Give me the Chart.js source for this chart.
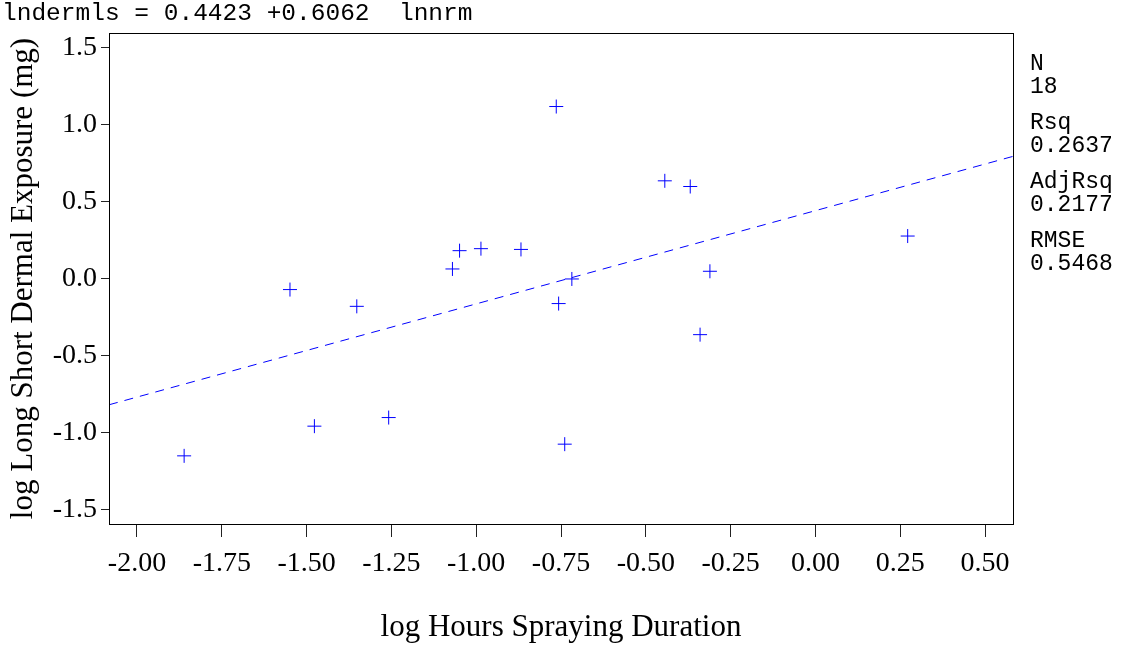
<!DOCTYPE html>
<html>
<head>
<meta charset="utf-8">
<script src="https://cdn.jsdelivr.net/npm/chart.js@4.4.1/dist/chart.umd.min.js"></script>
<style>
  body { margin: 0; background: #fff; }
  canvas { display: block; }
</style>
</head>
<body>
<canvas id="fitChart" width="1124" height="646"></canvas>
<script>
// Observed points (log hours spraying vs log dermal exposure)
const logHours = [-1.861, -1.549, -1.477, -1.352, -1.258, -1.070, -1.049, -0.986, -0.868,
  -0.764, -0.757, -0.739, -0.718, -0.444, -0.369, -0.340, -0.311, 0.272];
const logExposure = [-1.152, -0.071, -0.959, -0.180, -0.903, 0.063, 0.182, 0.195, 0.190,
  1.119, -0.162, -1.076, -0.002, 0.636, 0.599, -0.364, 0.048, 0.277];

// Fitted line end points, read at the frame edges
const fitX = [-2.0825, 0.5825];
const fitY = [-0.820, 0.795];

// Axis ranges and ticks
const xRange = [-2.0825, 0.5825];
const yRange = [-1.595, 1.597];
const xStep = 0.25;
const yStep = 0.5;

// Header and side statistics
const equationText = "lndermls = 0.4423 +0.6062  lnnrm";
const statLabels = ["N", "Rsq", "AdjRsq", "RMSE"];
const statValues = ["18", "0.2637", "0.2177", "0.5468"];

const serif = "'Liberation Serif', 'Times New Roman', serif";
const mono = "'Liberation Mono', 'Courier New', monospace";

// Frame round the plot area plus the header / stats text
const framePlugin = {
  id: "frame",
  afterDraw(chart) {
    const { ctx, chartArea } = chart;
    ctx.save();
    ctx.strokeStyle = "#000";
    ctx.lineWidth = 1;
    ctx.strokeRect(
      Math.round(chartArea.left) + 0.5,
      Math.round(chartArea.top) + 0.5,
      Math.round(chartArea.right - chartArea.left),
      Math.round(chartArea.bottom - chartArea.top)
    );

    ctx.fillStyle = "#000";
    ctx.font = "24.5px " + mono;
    ctx.textBaseline = "alphabetic";
    ctx.textAlign = "left";
    ctx.fillText(equationText, 2, 20);

    ctx.font = "23px " + mono;
    let y = 70;
    statLabels.forEach((label, i) => {
      ctx.fillText(label, 1030, y);
      ctx.fillText(statValues[i], 1030, y + 23);
      y += 59;
    });
    ctx.restore();
  },
};

const points = logHours.map((x, i) => ({ x: x, y: logExposure[i] }));
const fitLine = fitX.map((x, i) => ({ x: x, y: fitY[i] }));

new Chart(document.getElementById("fitChart"), {
  type: "scatter",
  data: {
    datasets: [
      {
        label: "Observed",
        data: points,
        pointStyle: "cross",
        pointRadius: 7,
        pointHoverRadius: 7,
        borderColor: "#0000ff",
        backgroundColor: "#0000ff",
        borderWidth: 1,
      },
      {
        label: "Fit",
        type: "line",
        data: fitLine,
        borderColor: "#0000ff",
        borderWidth: 1,
        borderDash: [9, 7],
        pointRadius: 0,
        fill: false,
      },
    ],
  },
  options: {
    responsive: false,
    animation: false,
    layout: { padding: { top: 33, right: 111, left: 0, bottom: 0 } },
    plugins: {
      legend: { display: false },
      tooltip: { enabled: false },
    },
    scales: {
      x: {
        type: "linear",
        min: xRange[0],
        max: xRange[1],
        afterFit: (scale) => { scale.height = 122; },
        border: { display: false },
        grid: { drawOnChartArea: false, drawTicks: true, tickLength: 13, color: "#222" },
        ticks: {
          stepSize: xStep,
          includeBounds: false,
          color: "#000",
          padding: 10,
          maxRotation: 0,
          font: { family: serif, size: 28 },
          callback: (v) => Number(v).toFixed(2),
        },
        title: {
          display: true,
          text: "log Hours Spraying Duration",
          color: "#000",
          font: { family: serif, size: 31 },
          padding: { top: 0, bottom: 0 },
        },
      },
      y: {
        type: "linear",
        min: yRange[0],
        max: yRange[1],
        afterFit: (scale) => { scale.width = 109; },
        border: { display: false },
        grid: { drawOnChartArea: false, drawTicks: true, tickLength: 8, color: "#222" },
        ticks: {
          stepSize: yStep,
          includeBounds: false,
          color: "#000",
          padding: 4,
          font: { family: serif, size: 28 },
          callback: (v) => Number(v).toFixed(1),
        },
        title: {
          display: true,
          text: "log Long Short Dermal Exposure (mg)",
          color: "#000",
          font: { family: serif, size: 31 },
          padding: { top: 5, bottom: 0 },
        },
      },
    },
  },
  plugins: [framePlugin],
});
</script>
</body>
</html>
